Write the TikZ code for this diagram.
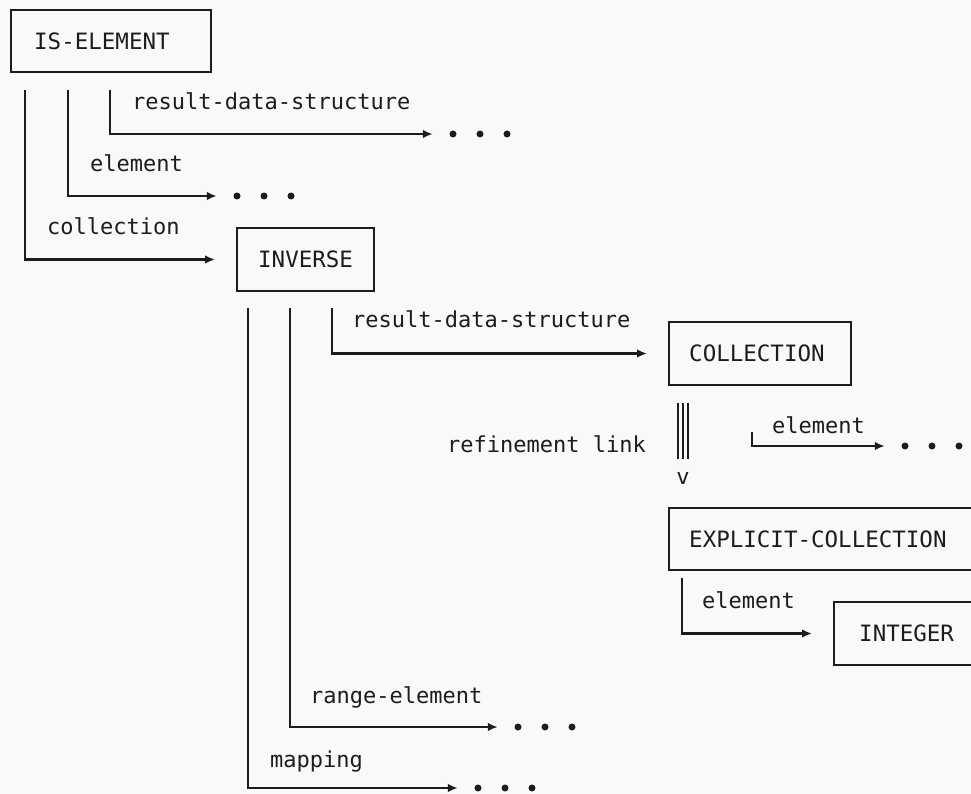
\documentclass[tikz,border=0pt]{standalone}
\usepackage{fontspec}
\setmonofont{DejaVu Sans Mono}
\usetikzlibrary{arrows.meta,calc}
\definecolor{ink}{HTML}{1C1C1C}
\definecolor{paper}{HTML}{F9F9F9}
\begin{document}
\begin{tikzpicture}[x=1pt,y=-1pt,
  every node/.style={font=\ttfamily\fontsize{22}{26}\selectfont, text=ink},
  typebox/.style={draw=ink, line width=2.4pt, minimum height=62.5pt, anchor=west,
    inner ysep=0pt, align=left, font=\ttfamily\fontsize{22.5}{26}\selectfont},
  lbl/.style={anchor=base west, inner sep=0pt},
  stem/.style={draw=ink, line width=2.4pt},
  link/.style={stem, -{Latex[length=10pt,width=8.5pt]}},
  tobox/.style={link, shorten >=21pt},
  todots/.style={link, shorten >=17pt},
  dotrow/.style={minimum width=60pt, minimum height=6pt, inner sep=0pt},
  refine/.style={draw=ink, line width=1.5pt}
]
% page
\fill[paper] (0,0) rectangle (971,794);
\clip (0,0) rectangle (971,794);

% type boxes
\node[typebox, text width=154pt, inner xsep=23pt] (isel) at (10,41) {IS-ELEMENT};
\node[typebox, text width=95pt,  inner xsep=21pt] (inv)  at (236,259.5) {INVERSE};
\node[typebox, text width=142pt, inner xsep=20pt] (coll) at (668,353.5) {COLLECTION};
\node[typebox, text width=290pt, inner xsep=20pt] (expl) at (668,539) {EXPLICIT-COLLECTION};
\node[typebox, text width=110pt, inner xsep=25pt] (intg) at (833,633.5) {INTEGER};

% open ends (three dots)
\node[dotrow] (d1) at (480,134) {};
\node[dotrow] (d2) at (264,196) {};
\node[dotrow] (d3) at (545,727) {};
\node[dotrow] (d4) at (505,788) {};
\node[dotrow] (d5) at (932,446) {};
\foreach \d in {d1,d2,d3,d4,d5}
  \foreach \k in {-1,0,1}
    \fill[ink] ([xshift=\k*27pt]\d.center) circle (3.5pt);

% role stems
\coordinate (a1) at (110,90);
\coordinate (a2) at (68,90);
\coordinate (a3) at (25,90);
\coordinate (b1) at (332,308);
\coordinate (b2) at (290,308);
\coordinate (b3) at (248,308);
\coordinate (c1) at (752,432);
\coordinate (e1) at (682,578);

% IS-ELEMENT roles
\draw[todots] (a1) |- (d1);
\draw[todots] (a2) |- (d2);
\draw[tobox]  (a3) |- (inv);
\node[lbl] (rds1) at (132,110) {result-data-structure};
\node[lbl] (el1)  at (90,172)  {element};
\node[lbl] (col1) at (47,235)  {collection};

% INVERSE roles
\draw[tobox]  (b1) |- (coll);
\draw[todots] (b2) |- (d3);
\draw[todots] (b3) |- (d4);
\node[lbl] (rds2) at (352,327) {result-data-structure};
\node[lbl] (rng)  at (310,703) {range-element};
\node[lbl] (map)  at (270,767) {mapping};

% COLLECTION role and refinement
\draw[todots] (c1) |- (d5);
\node[lbl] (el2) at (772,433) {element};
\node (vmark) at (683,478) {v};
\node[lbl] (refl) at (447,452) {refinement link};
\foreach \i/\x in {1/678,2/683,3/688} {
  \coordinate (t\i) at (\x,403);
  \draw[refine, shorten >=9pt] (t\i) -- (t\i |- vmark.north);
}

% EXPLICIT-COLLECTION role
\draw[tobox] (e1) |- (intg);
\node[lbl] (el3) at (702,608) {element};
\end{tikzpicture}
\end{document}
